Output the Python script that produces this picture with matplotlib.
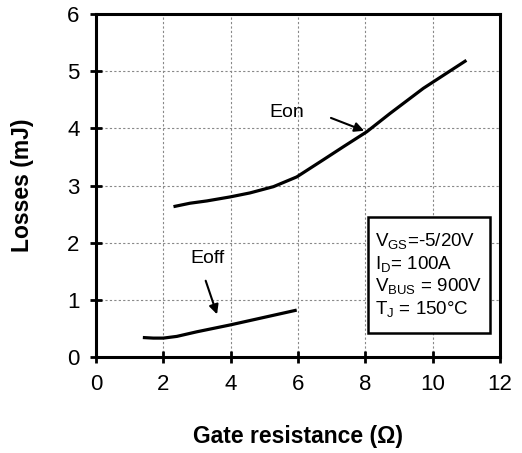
import matplotlib.pyplot as plt
from matplotlib.patches import Rectangle
import numpy as np

plt.rcParams['font.family'] = ['Liberation Sans', 'DejaVu Sans']

# Eon curve (gate resistance in ohm, losses in mJ)
eon_rg = [2.3, 2.79, 3.29, 3.98, 4.57, 5.27, 5.96, 6.75, 7.35, 8.04, 8.73, 9.72, 11.0]
eon_mj = [2.63, 2.69, 2.73, 2.80, 2.87, 2.98, 3.15, 3.45, 3.68, 3.94, 4.26, 4.70, 5.19]

# Eoff curve
eoff_rg = [1.39, 1.7, 2.0, 2.4, 2.99, 3.98, 4.97, 5.96]
eoff_mj = [0.34, 0.33, 0.33, 0.36, 0.44, 0.56, 0.69, 0.82]

xticks = [0, 2, 4, 6, 8, 10, 12]
yticks = [0, 1, 2, 3, 4, 5, 6]

fig = plt.figure(figsize=(5.22, 4.53), dpi=100)
ax = fig.add_axes([0.184, 0.212, 0.774, 0.757])

ax.plot(eon_rg, eon_mj, color='black', lw=2.3, solid_capstyle='butt', solid_joinstyle='round')
ax.plot(eoff_rg, eoff_mj, color='black', lw=2.3, solid_capstyle='butt', solid_joinstyle='round')

ax.set_xlim(0, 12)
ax.set_ylim(0, 6)
ax.set_xticks(xticks)
ax.set_yticks(yticks)
ax.grid(True, ls=(0, (2, 2)), color='#888888', lw=0.8)
for s in ax.spines.values():
    s.set_linewidth(2.2)
ax.tick_params(direction='inout', length=8, width=2, labelsize=16, pad=8)

ax.set_xlabel('Gate resistance (\u03a9)', fontsize=16.5, fontweight='bold', labelpad=22)
ax.set_ylabel('Losses (mJ)', fontsize=16.5, fontweight='bold', labelpad=24)

ax.annotate('', xy=(8.04, 3.94), xytext=(6.9, 4.2),
            arrowprops=dict(arrowstyle='-|>', color='black', lw=1.5, mutation_scale=14))
ax.text(5.67, 4.27, 'Eon', fontsize=14, ha='center', va='center')

ax.annotate('', xy=(3.62, 0.70), xytext=(3.23, 1.38),
            arrowprops=dict(arrowstyle='-|>', color='black', lw=1.5, mutation_scale=14))
ax.text(3.3, 1.72, 'Eoff', fontsize=14, ha='center', va='center')

# condition box
ax.add_patch(Rectangle((8.08, 0.42), 3.62, 2.03, fc='white', ec='black', lw=1.8, zorder=3))
info = ('V$_{\\mathregular{GS}}$=-5/20V\n'
        'I$_{\\mathregular{D}}$= 100A\n'
        'V$_{\\mathregular{BUS}}$ = 900V\n'
        'T$_{\\mathregular{J}}$ = 150\u00b0C')
ax.text(8.28, 1.42, info, fontsize=13.5, ha='left', va='center', linespacing=1.17, zorder=4)

fig.savefig('out.png', dpi=100)
